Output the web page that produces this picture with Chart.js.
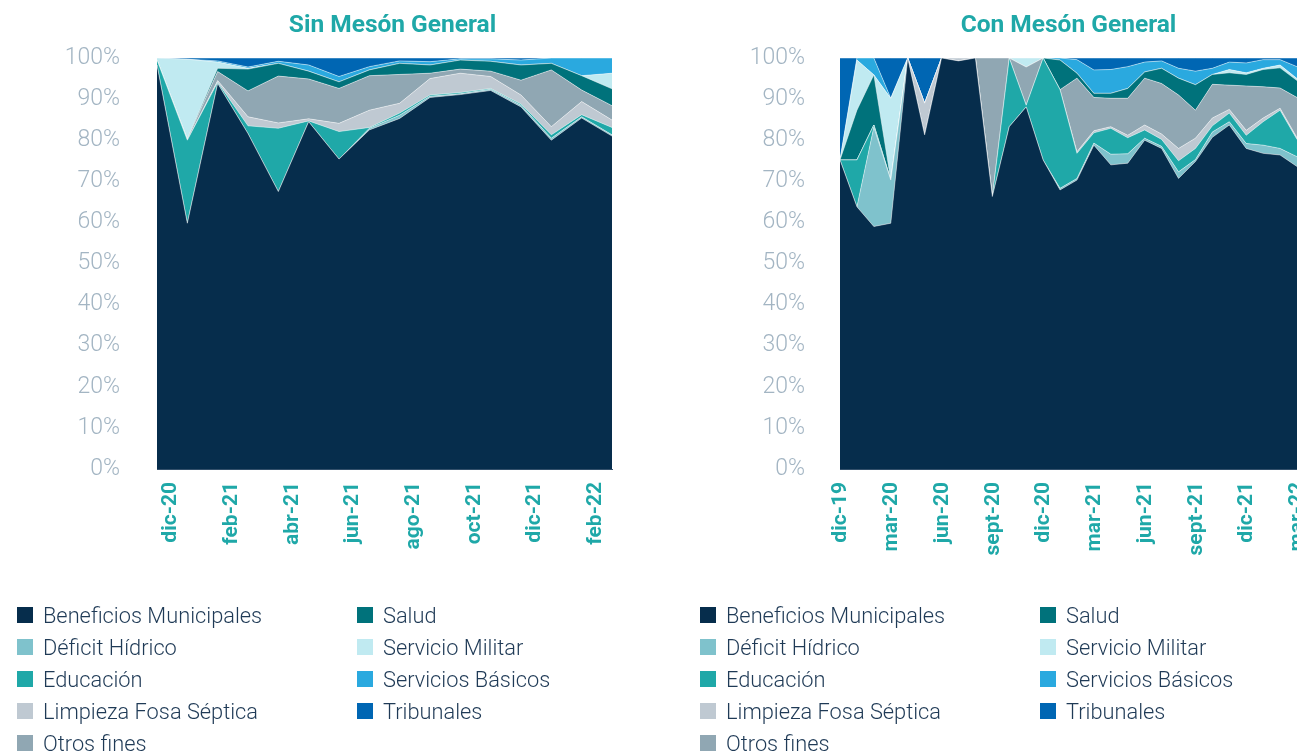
<!DOCTYPE html>
<html>
<head>
<meta charset="utf-8">
<script src="https://cdn.jsdelivr.net/npm/chart.js@4.4.0/dist/chart.umd.min.js"></script>
<style>
  html, body { margin:0; padding:0; width:1297px; height:755px; overflow:hidden; background:#ffffff; font-family: Roboto, "Noto Sans", sans-serif; }
  #c1 { position:absolute; left:0; top:0; }
  #c2 { position:absolute; left:683px; top:0; }
  .lg-item { position:absolute; height:32px; display:flex; align-items:center; white-space:nowrap;
             font-family: Roboto, sans-serif; font-weight:300; font-size:21.8px; color:#1f3a56; }
  .lg-box { width:16px; height:16px; margin-right:10px; flex:none; }
</style>
</head>
<body>
<canvas id="c1" width="640" height="600"></canvas>
<canvas id="c2" width="630" height="600"></canvas>
<div id="legends"></div>
<script>
// ---------- categories ----------
const sinLabels = ['dic-20','ene-21','feb-21','mar-21','abr-21','may-21','jun-21','jul-21','ago-21','sept-21','oct-21','nov-21','dic-21','ene-22','feb-22','mar-22'];
const conLabels = ['dic-19','ene-20','feb-20','mar-20','abr-20','may-20','jun-20','jul-20','ago-20','sept-20','oct-20','nov-20','dic-20','ene-21','feb-21','mar-21','abr-21','may-21','jun-21','jul-21','ago-21','sept-21','oct-21','nov-21','dic-21','ene-22','feb-22','mar-22'];

// ---------- series names / colours ----------
const seriesNames  = ['Beneficios Municipales','Déficit Hídrico','Educación','Limpieza Fosa Séptica','Otros fines','Salud','Servicio Militar','Servicios Básicos','Tribunales'];
const seriesColors = ['#062d4c','#7fc2cc','#1fa8a8','#bfc9d2','#90a7b3','#00727b','#c0eaf1','#2aa9df','#0066b3'];

// ---------- Sin Mesón General (% share) ----------
const sinBeneficios = [98.3, 59.8, 93.8, 81.6, 67.5, 84.5, 75.4, 82.5, 85.3, 90.4, 91.1, 92.1, 88.1, 80.0, 85.4, 81.0];
const sinDeficit    = [0, 0, 0, 0, 0, 0, 0, 0.4, 0.8, 0.3, 0.2, 0.3, 0.4, 0.5, 0.3, 0.3];
const sinEducacion  = [1.2, 20.2, 0.3, 1.9, 15.4, 0.2, 6.7, 0.2, 0.5, 0.3, 0.3, 0.2, 0.3, 0.8, 0.5, 1.8];
const sinLimpieza   = [0, 0, 0.4, 2.2, 1.3, 0.5, 2.0, 4.2, 2.4, 4.0, 4.7, 2.9, 2.2, 2.0, 3.2, 1.8];
const sinOtros      = [0, 0.3, 2.2, 6.3, 11.4, 9.7, 8.5, 8.4, 7.0, 1.3, 1.0, 1.3, 3.6, 13.8, 2.8, 3.5];
const sinSalud      = [0, 0, 0.8, 5.3, 3.1, 1.9, 1.6, 1.4, 2.7, 2.0, 2.2, 2.4, 3.7, 1.6, 3.5, 4.1];
const sinMilitar    = [0.5, 19.4, 1.5, 0.2, 0, 0, 0, 0, 0, 0, 0, 0, 0, 0, 0, 3.8];
const sinBasicos    = [0, 0, 0.3, 0.3, 0.5, 1.5, 1.3, 0.8, 0.6, 0.8, 0.3, 0.6, 1.2, 1.3, 4.3, 3.7];
const sinTribunales = [0, 0.3, 0.7, 2.2, 0.8, 1.7, 4.5, 2.1, 0.7, 0.9, 0.2, 0.2, 0.5, 0, 0, 0];

// ---------- Con Mesón General (% share) ----------
const conBeneficios = [75.2, 63.8, 59.0, 59.8, 100, 81.3, 100, 99.3, 100, 66.3, 83.3, 88.1, 75.2, 67.9, 70.3, 78.8, 74.0, 74.4, 80.0, 78.0, 70.7, 74.8, 80.7, 83.7, 78.0, 76.8, 76.4, 73.6];
const conDeficit    = [0, 0, 24.2, 10.5, 0, 0, 0, 0, 0, 0, 0, 0, 0, 0.4, 0.4, 0.5, 2.6, 2.3, 0.5, 0.5, 1.6, 0.5, 1.3, 0.8, 1.2, 2.0, 1.6, 2.4];
const conEducacion  = [0, 11.4, 0.5, 0, 0, 0, 0, 0, 0, 0, 16.7, 0.4, 24.8, 24.0, 6.1, 2.5, 6.3, 3.9, 2.0, 1.7, 2.7, 2.7, 1.5, 2.1, 2.0, 5.7, 9.3, 4.2];
const conLimpieza   = [0, 0, 0, 0, 0, 7.7, 0, 0.7, 0, 0, 0, 0, 0, 0, 0.4, 0.5, 0.4, 0.6, 1.2, 1.3, 3.0, 2.5, 1.9, 0.9, 1.2, 0.9, 0.5, 0.4];
const conOtros      = [0, 0, 0, 0, 0, 0, 0, 0, 0, 33.7, 0, 9.3, 0, 0, 17.9, 8.1, 6.9, 9.0, 11.4, 12.3, 13.0, 6.8, 8.2, 5.9, 10.8, 7.6, 4.9, 9.8];
const conSalud      = [0, 12.1, 12.2, 0, 0, 0, 0, 0, 0, 0, 0, 0, 0, 7.2, 1.2, 1.0, 1.2, 2.4, 1.5, 3.7, 4.1, 6.2, 2.4, 3.0, 2.8, 4.2, 4.9, 4.1];
const conMilitar    = [0, 12.2, 0, 19.9, 0, 0, 0, 0, 0, 0, 0, 2.2, 0, 0, 0, 0, 0, 0, 0, 0, 0, 0, 0, 0.8, 0.4, 0.3, 0.7, 0.5];
const conBasicos    = [0, 0.5, 4.1, 0, 0, 0, 0, 0, 0, 0, 0, 0, 0, 0.5, 3.3, 5.7, 5.8, 5.3, 2.4, 1.8, 2.4, 3.3, 1.5, 1.8, 2.4, 2.1, 1.3, 2.9];
const conTribunales = [24.8, 0, 0, 9.8, 0, 11.0, 0, 0, 0, 0, 0, 0, 0, 0, 0.4, 2.9, 2.8, 2.1, 1.0, 0.7, 2.5, 3.2, 2.5, 1.0, 1.2, 0.4, 0.4, 2.1];

// ---------- y tick values ----------
const yTicks = [0,10,20,30,40,50,60,70,80,90,100];

const sinSeries = [sinBeneficios, sinDeficit, sinEducacion, sinLimpieza, sinOtros, sinSalud, sinMilitar, sinBasicos, sinTribunales];
const conSeries = [conBeneficios, conDeficit, conEducacion, conLimpieza, conOtros, conSalud, conMilitar, conBasicos, conTribunales];

const TEAL = '#1fa8a8';

function makeChart(canvasId, title, labels, series, opt) {
  const datasets = series.map((vals, i) => ({
    label: seriesNames[i],
    data: vals,
    backgroundColor: seriesColors[i],
    borderColor: 'rgba(255,255,255,0.75)',
    borderWidth: 0.6,
    pointRadius: 0,
    pointHoverRadius: 0,
    tension: 0,
    fill: i === 0 ? 'origin' : '-1'
  }));
  const plugins = [];
  if (opt.titleShift) {
    plugins.push({
      id: 'titleShift',
      afterLayout(chart) {
        if (chart.titleBlock) { chart.titleBlock.left += opt.titleShift; chart.titleBlock.right += opt.titleShift; }
      }
    });
  }
  return new Chart(document.getElementById(canvasId), {
    type: 'line',
    data: { labels: labels, datasets: datasets },
    plugins: plugins,
    options: {
      responsive: false,
      animation: false,
      layout: { padding: { left: 0, right: opt.padRight, top: 0, bottom: 0 } },
      plugins: {
        legend: { display: false },
        tooltip: { enabled: false },
        title: {
          display: true,
          text: title,
          fullSize: false,
          color: TEAL,
          font: { family: 'Roboto', size: 24.5, weight: 'bold', lineHeight: 1.2 },
          padding: { top: 11.3, bottom: 17.3 }
        }
      },
      scales: {
        x: {
          type: 'category',
          offset: false,
          grid: { display: false, drawTicks: false },
          border: { display: true, color: '#33506b', width: 1 },
          ticks: {
            autoSkip: false,
            minRotation: 90,
            maxRotation: 90,
            padding: 13,
            labelOffset: opt.labelOffset,
            color: TEAL,
            font: { family: 'Roboto', size: 21, weight: 'bold' },
            callback: function (v, i) { return i % opt.every === 0 ? labels[i] : ''; }
          },
          afterFit: function (s) { s.paddingLeft = 0; s.paddingRight = 0; s.height = 131; }
        },
        y: {
          stacked: true,
          min: 0,
          max: 100,
          grid: { display: false, drawTicks: false },
          border: { display: false },
          afterBuildTicks: function (s) { s.ticks = yTicks.map(v => ({ value: v })); },
          ticks: {
            padding: opt.yPad,
            color: '#a3b5c3',
            font: { family: 'Roboto', size: 23, weight: '300' },
            callback: function (v) { return v + '%'; }
          },
          afterFit: function (s) { s.width = 157; }
        }
      }
    }
  });
}

makeChart('c1', 'Sin Mesón General', sinLabels, sinSeries, { every: 2, labelOffset: 14, padRight: 28, yPad: 37, titleShift: 8 });
makeChart('c2', 'Con Mesón General', conLabels, conSeries, { every: 3, labelOffset: 1, padRight: 16, yPad: 35, titleShift: 0 });

// ---------- HTML legends (built from the series arrays) ----------
function buildLegend(x0) {
  const holder = document.getElementById('legends');
  seriesNames.forEach((name, i) => {
    const col = Math.floor(i / 5), row = i % 5;
    const item = document.createElement('div');
    item.className = 'lg-item';
    item.style.left = (x0 + col * 340) + 'px';
    item.style.top = (599 + row * 32) + 'px';
    const box = document.createElement('span');
    box.className = 'lg-box';
    box.style.background = seriesColors[i];
    const txt = document.createElement('span');
    txt.textContent = name;
    item.appendChild(box);
    item.appendChild(txt);
    holder.appendChild(item);
  });
}
buildLegend(17);
buildLegend(700);
</script>
</body>
</html>
